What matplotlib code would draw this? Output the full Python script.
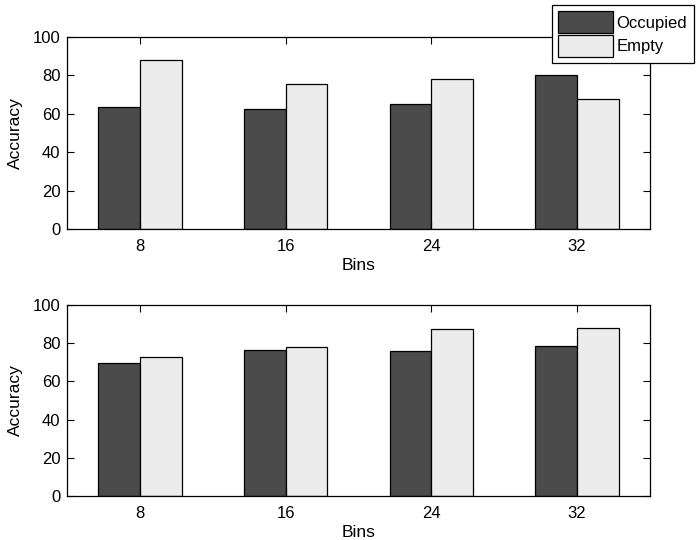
import numpy as np
import matplotlib
matplotlib.use("Agg")
import matplotlib.pyplot as plt

plt.rcParams['font.family'] = ['Liberation Sans Narrow', 'Liberation Sans', 'DejaVu Sans']

bins = ["8", "16", "24", "32"]
series_names = ["Occupied", "Empty"]
top_occupied = [63.5, 62.6, 64.9, 80.3]
top_empty = [87.9, 75.3, 78.0, 67.5]
bottom_occupied = [69.8, 76.4, 75.7, 78.5]
bottom_empty = [72.7, 77.8, 87.5, 88.2]

dark = "#4b4b4b"
light = "#ececec"

fig = plt.figure(figsize=(6.96, 5.4), dpi=100)
ax1 = fig.add_axes([0.0967, 0.5754, 0.837, 0.3566])
ax2 = fig.add_axes([0.0967, 0.0815, 0.837, 0.3537])

x = np.arange(1, len(bins) + 1)
w = 0.286

def draw(ax, occ, emp):
    b1 = ax.bar(x - w / 2, occ, w, color=dark, edgecolor="black", linewidth=0.9)
    b2 = ax.bar(x + w / 2, emp, w, color=light, edgecolor="black", linewidth=0.9)
    ax.set_xlim(0.5, 4.5)
    ax.set_ylim(0, 100)
    ax.set_xticks(x)
    ax.set_xticklabels(bins)
    ax.set_yticks(range(0, 101, 20))
    ax.tick_params(direction="in", top=True, right=True, length=5, labelsize=12)
    ax.tick_params(axis="x", pad=7)
    ax.tick_params(axis="y", pad=5)
    ax.set_xlabel("Bins", fontsize=12.5, labelpad=3)
    ax.set_ylabel("Accuracy", fontsize=12.5, labelpad=7)
    for s in ax.spines.values():
        s.set_linewidth(0.9)
    return b1, b2

b1, b2 = draw(ax1, top_occupied, top_empty)
draw(ax2, bottom_occupied, bottom_empty)

# legend sits over the top-right corner of the figure, like the original
leg = fig.legend([b1, b2], series_names, loc="upper left",
                 bbox_to_anchor=(551.7 / 696, 1 - 4.7 / 540),
                 fontsize=12, fancybox=False, framealpha=1, edgecolor="black",
                 borderpad=0.4, handlelength=3.3, handleheight=1.6,
                 handletextpad=0.2, labelspacing=0.15, borderaxespad=0)
leg.get_frame().set_linewidth(0.9)

fig.savefig("out.png", dpi=100)
